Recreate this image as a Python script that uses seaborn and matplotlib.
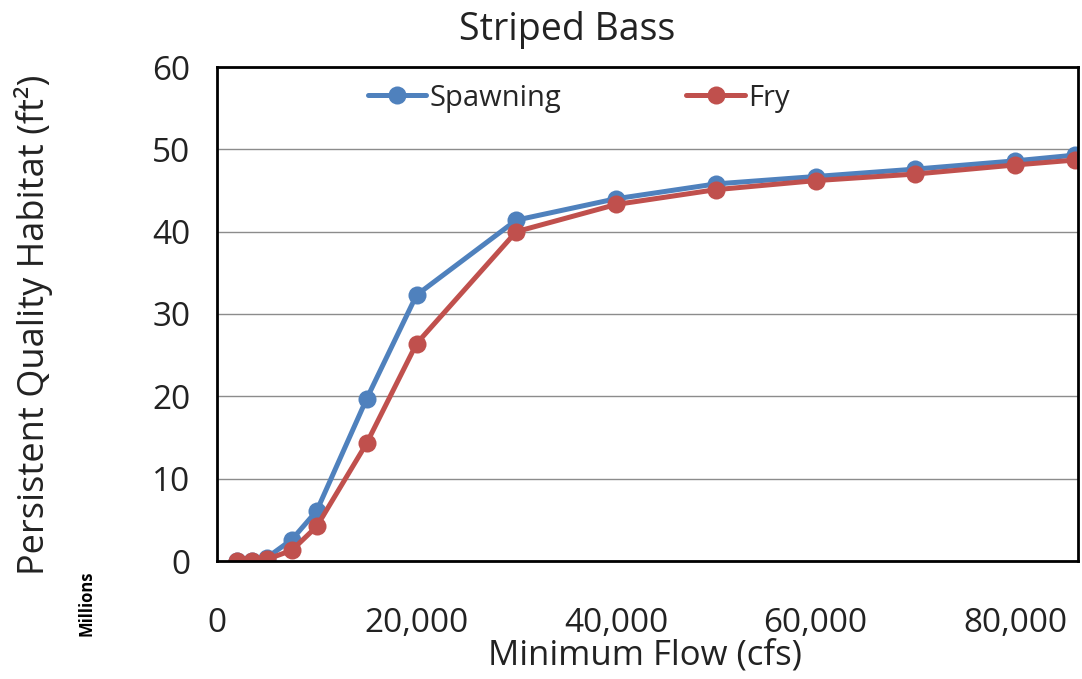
import numpy as np
import pandas as pd
import matplotlib
matplotlib.use("Agg")
import matplotlib.pyplot as plt
import seaborn as sns

# Minimum flow (cfs) and habitat area (millions of ft^2)
flow = [2000, 3500, 5000, 7500, 10000, 15000, 20000, 30000, 40000, 50000, 60000, 70000, 80000, 86000]
spawning = [0.0, 0.0, 0.4, 2.6, 6.1, 19.7, 32.3, 41.4, 44.0, 45.8, 46.7, 47.6, 48.6, 49.3]
fry = [0.0, 0.0, 0.2, 1.3, 4.2, 14.3, 26.4, 40.0, 43.3, 45.1, 46.2, 47.0, 48.1, 48.7]

series_names = ["Spawning", "Fry"]
series_colors = ["#4F81BD", "#C0504D"]
x_ticks = [0, 20000, 40000, 60000, 80000]
y_ticks = [0, 10, 20, 30, 40, 50, 60]

df = pd.DataFrame({
    "flow": flow * 2,
    "habitat": spawning + fry,
    "series": [series_names[0]] * len(flow) + [series_names[1]] * len(flow),
})

sns.set_style("white")
plt.rcParams["font.family"] = ["Open Sans", "DejaVu Sans"]

fig = plt.figure(figsize=(10.82, 6.79), dpi=100)
ax = fig.add_axes([217 / 1082, 1 - 561 / 679, (1078 - 217) / 1082, (561 - 67) / 679])

sns.lineplot(data=df, x="flow", y="habitat", hue="series", hue_order=series_names,
             palette=series_colors, marker="o", markersize=13, linewidth=3.6,
             markeredgewidth=0, ax=ax, sort=False)

ax.set_xlim(0, 86300)
ax.set_ylim(0, 60)
ax.set_xticks(x_ticks)
ax.set_xticklabels([f"{v:,}" for v in x_ticks])
ax.set_yticks(y_ticks)
ax.yaxis.grid(True, color="#8c8c8c", linewidth=1)
ax.set_axisbelow(True)
for s in ax.spines.values():
    s.set_color("black")
    s.set_linewidth(2)
ax.tick_params(axis="x", direction="out", length=7, width=1, colors="#555555",
               labelcolor="#222222", labelsize=24, pad=26)
ax.tick_params(axis="y", direction="out", length=7, width=1, colors="#555555",
               labelcolor="#222222", labelsize=24, pad=12)
ax.set_xlabel("")
ax.set_ylabel("")

leg = ax.legend(loc="center", bbox_to_anchor=(0.42, 0.937), ncol=2, frameon=False,
                fontsize=21, columnspacing=4.3, handlelength=2.0, handletextpad=0.1)

fig.text(567 / 1082, 1 - 30 / 679, "Striped Bass", ha="center", va="center", fontsize=27,
         color="#222222")
fig.text(645 / 1082, 1 - 656 / 679, "Minimum Flow (cfs)", ha="center", va="center",
         fontsize=25, color="#222222")
fig.text(34 / 1082, 1 - 325 / 679, "Persistent Quality Habitat (ft²)", ha="center",
         va="center", rotation=90, fontsize=26, color="#222222")
fig.text(86 / 1082, 1 - 603 / 679, "Millions", ha="center", va="center", rotation=90,
         fontsize=12, fontweight="bold", color="black")

fig.savefig("out.png", dpi=100)
